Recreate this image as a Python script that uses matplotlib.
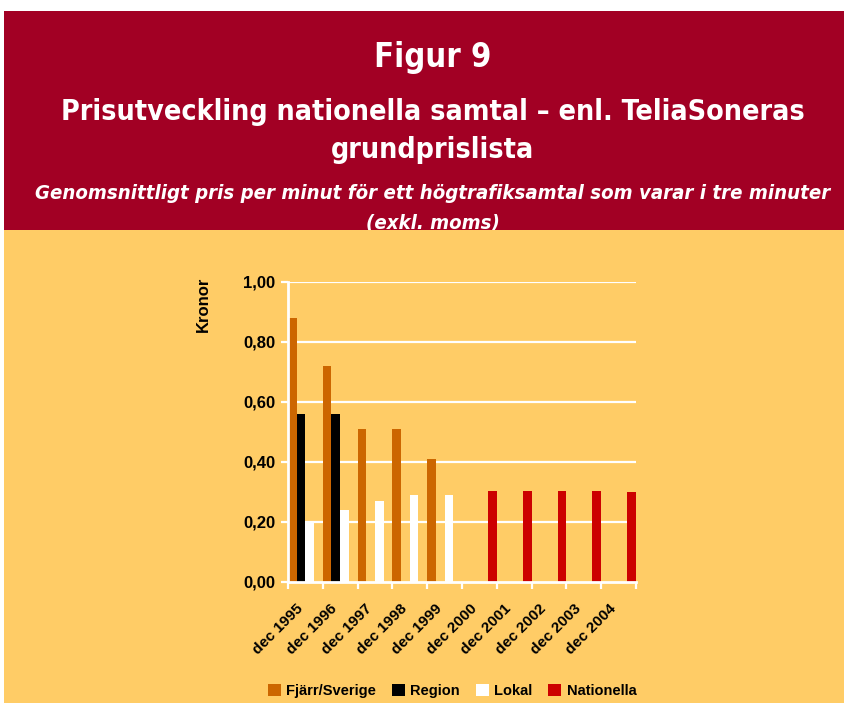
import matplotlib
matplotlib.use("Agg")
import matplotlib.pyplot as plt
import matplotlib.transforms as mtransforms
from matplotlib.patches import Rectangle, Patch
import numpy as np

# Data (kronor per minute)
years = ["dec 1995", "dec 1996", "dec 1997", "dec 1998", "dec 1999",
         "dec 2000", "dec 2001", "dec 2002", "dec 2003", "dec 2004"]
fjarr = [0.88, 0.72, 0.51, 0.51, 0.41, 0, 0, 0, 0, 0]
region = [0.56, 0.56, 0, 0, 0, 0, 0, 0, 0, 0]
lokal = [0.20, 0.24, 0.27, 0.29, 0.29, 0, 0, 0, 0, 0]
nationella = [0, 0, 0, 0, 0, 0.305, 0.305, 0.305, 0.305, 0.30]

series_names = ["Fjärr/Sverige", "Region", "Lokal", "Nationella"]
series_colors = ["#CC6600", "#000000", "#FFFFFF", "#CC0000"]

HEADER_RED = "#A20024"
BG_YELLOW = "#FFCC66"

W, H = 845, 705
fig = plt.figure(figsize=(W / 100, H / 100), dpi=100)
fig.patch.set_facecolor("white")

# header block and chart background (yellow sits above the header text, cutting it off)
fig.patches.append(Rectangle((4 / W, 1 - 230 / H), 1, 219 / H, transform=fig.transFigure,
                             facecolor=HEADER_RED, edgecolor="none", zorder=0))
fig.patches.append(Rectangle((4 / W, 1 - 703 / H), 1, 473 / H, transform=fig.transFigure,
                             facecolor=BG_YELLOW, edgecolor="none", zorder=5))

head = dict(color="white", fontweight="bold", family="DejaVu Sans", fontstretch="condensed",
            ha="center", va="center", zorder=2)
cx = 433 / W
fig.text(cx, 1 - 58 / H, "Figur 9", fontsize=23.5, **head)
fig.text(cx, 1 - 112 / H, "Prisutveckling nationella samtal – enl. TeliaSoneras",
         fontsize=20.5, **head)
fig.text(cx, 1 - 150 / H, "grundprislista", fontsize=20.5, **head)
fig.text(cx, 1 - 193 / H,
         "Genomsnittligt pris per minut för ett högtrafiksamtal som varar i tre minuter",
         fontsize=14.6, style="italic", **head)
fig.text(cx, 1 - 223 / H, "(exkl. moms)", fontsize=14.6, style="italic", **head)

# chart
ax = fig.add_axes([288 / W, 1 - 582 / H, 348 / W, 300 / H], zorder=10)
ax.set_facecolor("none")

x = np.arange(len(years))
bw = 0.25
for k, (vals, col) in enumerate(zip([fjarr, region, lokal, nationella], series_colors)):
    ax.bar(x - 0.5 + (k + 0.5) * bw, vals, width=bw, color=col, edgecolor="none", zorder=3)

ax.set_xlim(-0.5, len(years) - 0.5)
ax.set_ylim(0, 1.0)
yt = np.arange(0, 1.01, 0.2)
ax.set_yticks(yt)
ax.set_yticklabels([f"{v:.2f}".replace(".", ",") for v in yt],
                   fontsize=12, fontweight="bold", family="Liberation Sans")
for v in yt[1:]:
    ax.axhline(v, color="white", lw=1.6, zorder=1)

ax.set_xticks(x)
ax.set_xticklabels(years, rotation=45, ha="right",
                   fontsize=11, fontweight="bold", family="Liberation Sans")
shift = mtransforms.ScaledTranslation(-8 / 100, 0, fig.dpi_scale_trans)
for lbl in ax.get_xticklabels():
    lbl.set_transform(lbl.get_transform() + shift)
ax.set_xticks(np.arange(-0.5, len(years)), minor=True)
ax.tick_params(axis="x", which="major", length=0, pad=14)
ax.tick_params(axis="x", which="minor", length=5, width=1.6, color="white", direction="out")
ax.tick_params(axis="y", length=5, width=1.6, color="white", direction="out", pad=4)

for side in ["top", "right"]:
    ax.spines[side].set_visible(False)
for side in ["left", "bottom"]:
    ax.spines[side].set_color("white")
    ax.spines[side].set_linewidth(2)
    ax.spines[side].set_zorder(4)

fig.text(203 / W, 1 - 277 / H, "Kronor", rotation=90, ha="center", va="top",
         fontsize=12, fontweight="bold", family="Liberation Sans", zorder=10)

handles = [Patch(facecolor=c, edgecolor="none") for c in series_colors]
leg = fig.legend(handles, series_names, loc="center", bbox_to_anchor=(452 / W, 1 - 691 / H),
                 ncol=4, frameon=False, handlelength=0.9, handleheight=0.9,
                 handletextpad=0.35, columnspacing=1.1,
                 prop={"family": "Liberation Sans", "weight": "bold", "size": 10.5})
leg.set_zorder(10)

fig.savefig("out.png", dpi=100, facecolor=fig.get_facecolor())
